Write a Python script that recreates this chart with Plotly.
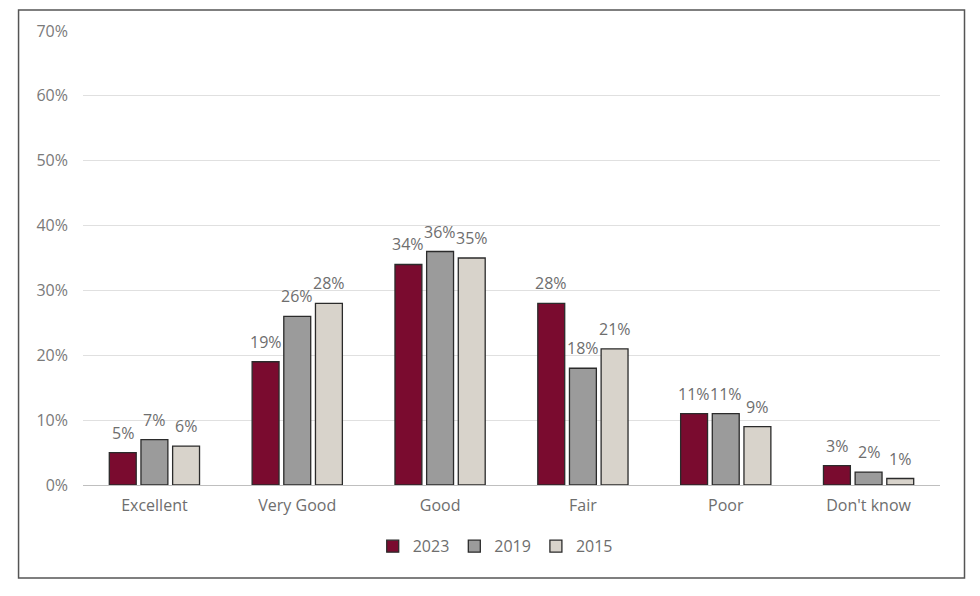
import plotly.graph_objects as go

categories = ["Excellent", "Very Good", "Good", "Fair", "Poor", "Don't know"]
series_names = ["2023", "2019", "2015"]
values_2023 = [0.05, 0.19, 0.34, 0.28, 0.11, 0.03]
values_2019 = [0.07, 0.26, 0.36, 0.18, 0.11, 0.02]
values_2015 = [0.06, 0.28, 0.35, 0.21, 0.09, 0.01]
colors = ["#7a0b2f", "#9b9b9b", "#d8d3cb"]

FONT = "Open Sans, Liberation Sans, Arial, sans-serif"
W, H = 972, 588
ML, MR, MT, MB = 74.5, 39.5, 23, 111
BARGAP = 0.335
plot_w = W - ML - MR
slot_px = plot_w / len(categories) * (1 - BARGAP) / len(series_names)

fig = go.Figure()
annotations = []
all_vals = [values_2023, values_2019, values_2015]
for i, (name, vals, col) in enumerate(zip(series_names, all_vals, colors)):
    fig.add_trace(go.Bar(
        name=name, x=categories, y=vals,
        marker=dict(color=col, line=dict(color="#2b2b2b", width=1.3)),
        hoverinfo="x+y",
    ))
    for c, v in zip(categories, vals):
        annotations.append(dict(
            x=c, y=v, xref="x", yref="y", text=f"{round(v*100)}%",
            showarrow=False, yanchor="bottom", xanchor="center",
            xshift=(i - 1) * slot_px, yshift=7,
            font=dict(family=FONT, size=16, color="#6e6e6e"),
        ))

fig.update_layout(
    width=W, height=H,
    paper_bgcolor="white", plot_bgcolor="white",
    font=dict(family=FONT, color="#6e6e6e"),
    barmode="group", bargap=BARGAP, bargroupgap=0.15,
    margin=dict(l=ML, r=MR, t=MT, b=MB),
    showlegend=True,
    legend=dict(orientation="h", x=0.481, xanchor="center", y=-0.135, yanchor="middle",
                font=dict(size=16, color="#6e6e6e"), itemwidth=30, traceorder="normal"),
    xaxis=dict(showline=True, linecolor="#bfbfbf", linewidth=1, ticks="",
               tickfont=dict(size=16, color="#6e6e6e"), ticklabelstandoff=6),
    yaxis=dict(range=[0, 0.7], dtick=0.1, tickformat=".0%", showgrid=True,
               gridcolor="#e0e0e0", gridwidth=1, zeroline=False, showline=False,
               tickfont=dict(size=16, color="#7a7a7a"), ticklabelstandoff=14),
    annotations=annotations,
    shapes=[dict(type="rect", xref="paper", yref="paper",
                 x0=-0.0752, x1=1.0286, y0=-0.205, y1=1.046,
                 line=dict(color="#555555", width=1.5), fillcolor="rgba(0,0,0,0)")],
)

fig.write_html("out.html")
